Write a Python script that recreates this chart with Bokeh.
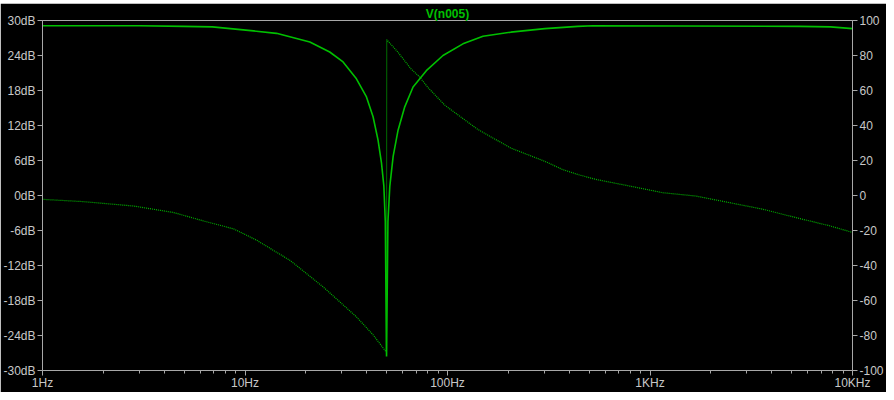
from bokeh.plotting import figure
from bokeh.models import Range1d, LinearAxis, FixedTicker, Spacer
from bokeh.layouts import column
from bokeh.embed import file_html
from bokeh.resources import INLINE

# ---- data ----
mag_freq = [1, 3, 4.96, 6.9, 9.8, 14.3, 20.9, 26.2, 30.5, 35.5, 39.8, 42.9, 45.4, 47.2,
            48.5, 49.3, 50.0, 50.8, 51.9, 53.9, 57.0, 61.5, 67.6, 78.6, 95.0, 119.2,
            149.7, 205.6, 302.7, 440, 522, 5479, 7785, 10000]
mag_db = [29.1, 29.1, 29.0, 28.9, 28.4, 27.8, 26.3, 24.6, 22.9, 20.0, 16.9, 13.5, 9.5, 5.6,
          1.6, -4.5, -27.6, -4.5, 1.6, 6.7, 11.2, 15.2, 18.6, 21.4, 24.0, 26.0,
          27.3, 28.0, 28.6, 29.0, 29.1, 29.0, 28.9, 28.6]

ph_freq = [1, 1.59, 2.81, 4.43, 6.22, 8.75, 11.36, 16.7, 24.3, 35.4, 42.9, 49.5, 49.9,
           50.1, 57.0, 66.1, 72.9, 80.1, 97.2, 141.3, 205.6, 302.7, 371, 440, 540, 794,
           1156, 1683, 2474, 3597, 5236, 7705, 10000]
ph_deg = [-2.2, -3.5, -6.0, -9.7, -14.5, -19.0, -25.4, -37.1, -52.2, -69.2, -79.6, -89.0, -89.5,
          89.0, 81.8, 72.3, 67.7, 61.7, 51.5, 37.7, 27.1, 19.5, 14.8, 12.0, 9.2, 5.4,
          1.6, -0.3, -4.1, -7.8, -12.6, -17.3, -21.1]

x_ticks = [1, 10, 100, 1000, 10000]
x_tick_labels = ["1Hz", "10Hz", "100Hz", "1KHz", "10KHz"]
x_minor = [m * d for d in [1, 10, 100, 1000] for m in range(2, 10)]
db_ticks = [-30, -24, -18, -12, -6, 0, 6, 12, 18, 24, 30]
db_labels = [f"{t}dB" for t in db_ticks]
ph_ticks = [-100, -80, -60, -40, -20, 0, 20, 40, 60, 80, 100]
ph_labels = [str(t) for t in ph_ticks]
title_text = "V(n005)"

GREEN = "#00c000"
GRAY = "#a8a8a8"
LABEL = "#c8c8c8"
FONT = "Liberation Sans"

p = figure(width=886, height=389, x_axis_type="log",
           x_range=Range1d(x_ticks[0], x_ticks[-1]), y_range=Range1d(db_ticks[0], db_ticks[-1]),
           output_backend="svg", toolbar_location=None,
           min_border_left=41, min_border_right=34, min_border_top=17, min_border_bottom=19,
           background_fill_color="black", border_fill_color="black",
           outline_line_color=GRAY, outline_line_width=1)
p.extra_y_ranges = {"phase": Range1d(ph_ticks[0], ph_ticks[-1])}

p.title.text = title_text
p.title.align = "center"
p.title.text_color = GREEN
p.title.text_font = FONT
p.title.text_font_style = "bold"
p.title.text_font_size = "12px"
p.title.standoff = 0
p.title.offset = 0

p.xgrid.visible = False
p.ygrid.visible = False

# magnitude (solid) and phase (dotted)
p.line(mag_freq, mag_db, line_color=GREEN, line_width=1.6)
p.line(ph_freq, ph_deg, y_range_name="phase", line_color="#00b400", line_width=1.2, line_dash="1 1")

xa = p.xaxis[0]
xa.ticker = FixedTicker(ticks=x_ticks, minor_ticks=x_minor)
xa.major_label_overrides = dict(zip(x_ticks, x_tick_labels))

ya = p.yaxis[0]
ya.ticker = FixedTicker(ticks=db_ticks, minor_ticks=[])
ya.major_label_overrides = dict(zip(db_ticks, db_labels))

ra = LinearAxis(y_range_name="phase")
ra.ticker = FixedTicker(ticks=ph_ticks, minor_ticks=[])
ra.major_label_overrides = dict(zip(ph_ticks, ph_labels))
p.add_layout(ra, "right")

for ax in [xa, ya, ra]:
    ax.axis_line_color = GRAY
    ax.major_tick_line_color = GRAY
    ax.minor_tick_line_color = GRAY
    ax.major_tick_out = 5
    ax.major_tick_in = 0
    ax.minor_tick_out = 3
    ax.minor_tick_in = 0
    ax.major_label_text_color = LABEL
    ax.major_label_text_font = FONT
    ax.major_label_text_font_size = "12px"
    ax.major_label_standoff = 2
xa.major_label_standoff = 0
xa.major_label_text_line_height = 0.9

layout = column(Spacer(height=3, width=886), p)
open("out.html", "w").write(file_html(layout, INLINE))
